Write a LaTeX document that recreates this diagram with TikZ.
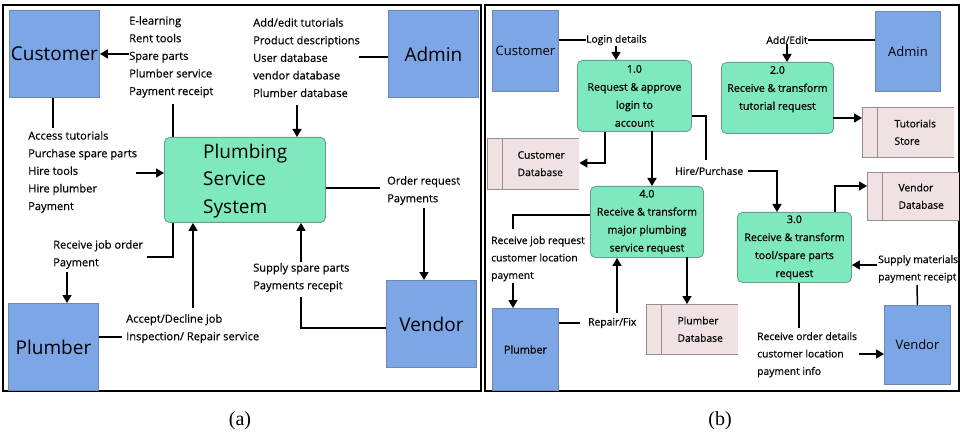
\documentclass[tikz,border=0pt]{standalone}
\usepackage{fontspec}
\setmainfont{Open Sans}
\newfontfamily\medfont{Open Sans}[FakeBold=0.5]
\newfontfamily\semifont{Open Sans}[FakeBold=0.8]
\newfontfamily\capfont{Liberation Serif}
\usetikzlibrary{arrows.meta}

\definecolor{extfill}{RGB}{124,166,230}
\definecolor{extline}{RGB}{110,135,175}
\definecolor{procfill}{RGB}{126,233,191}
\definecolor{procline}{RGB}{105,160,140}
\definecolor{storefill}{RGB}{240,226,226}
\definecolor{storeline}{RGB}{150,142,142}

\newcommand\bigtxt{\fontsize{19pt}{27.5pt}\selectfont}
\newcommand\midtxt{\fontsize{13pt}{16pt}\selectfont}
\newcommand\lblA{\medfont\fontsize{11.1pt}{17.6pt}\selectfont}
\newcommand\lblB{\medfont\fontsize{10.3pt}{17.4pt}\selectfont}
\newcommand\boxB{\semifont\fontsize{10.6pt}{18pt}\selectfont}

\tikzset{
  ext/.style={draw=extline, fill=extfill, line width=0.9pt, inner sep=0pt, anchor=north west},
  proc/.style={draw=procline, fill=procfill, line width=0.9pt, rounded corners=5pt,
    inner sep=0pt, anchor=north west, align=center, font=\boxB},
  storebox/.style={fill=storefill, inner sep=0pt, anchor=north west},
  storetxt/.style={inner sep=0pt, align=left, font=\lblB},
  lbla/.style={inner sep=0pt, anchor=north west, align=left, font=\lblA},
  lblb/.style={inner sep=0pt, align=left, font=\lblB},
  link/.style={line width=1.5pt},
  flow/.style={line width=1.5pt, -{Triangle[length=8pt,width=9pt]}},
  frame/.style={line width=2pt},
  captxt/.style={font=\capfont\fontsize{20pt}{22pt}\selectfont, inner sep=0pt},
}

\begin{document}
\begin{tikzpicture}[x=1pt, y=-1pt]
\useasboundingbox (0,0) rectangle (960,438);

% ---------- panel frames ----------
\draw[frame] (3,5) rectangle (480.5,391);
\draw[frame] (484.5,5) rectangle (958.5,391);

% ================= context diagram =================
\node[ext, minimum width=90pt, minimum height=87pt, font=\bigtxt] (custA) at (9,10) {Customer};
\node[ext, minimum width=90pt, minimum height=87pt, font=\bigtxt] (adminA) at (388,10) {Admin};
\node[ext, minimum width=90pt, minimum height=87pt, font=\bigtxt] (plumA) at (8,303) {Plumber};
\node[ext, minimum width=90pt, minimum height=87pt, font=\bigtxt] (vendA) at (386,280) {Vendor};
\node[ext, draw=procline, fill=procfill, rounded corners=5pt, minimum width=161pt, minimum height=85pt] (sysA) at (164,137) {};
\node[inner sep=0pt, anchor=west, align=left, font=\bigtxt] (sysT) at (203,181) {Plumbing\\Service\\System};

\node[lbla] (custOut) at (129,16) {E-learning\\Rent tools\\Spare parts\\Plumber service\\Payment receipt};
\node[lbla] (custIn) at (28,131) {Access tutorials\\Purchase spare parts\\Hire tools\\Hire plumber\\Payment};
\node[lbla] (admOut) at (253,18) {Add/edit tutorials\\Product descriptions\\User database\\vendor database\\Plumber database};
\node[lbla] (vendIn) at (387,176) {Order request\\Payments};
\node[lbla] (vendOut) at (253,263) {Supply spare parts\\Payments recepit};
\node[lbla] (plumIn) at (53,240) {Receive job order\\Payment};
\node[lbla] (plumOut) at (126,314) {Accept/Decline job\\Inspection/ Repair service};

\coordinate (a1) at (173,104);
\coordinate (a2) at (136,173);
\coordinate (a3) at (359,57);
\coordinate (a4) at (297,105);
\coordinate (a5) at (380,188);
\coordinate (a6) at (424,208);
\coordinate (a7) at (301,328);
\coordinate (a8) at (301,297);
\coordinate (a9) at (301,262);
\coordinate (a10) at (173,257);
\coordinate (a11) at (147,257);
\coordinate (a12) at (67,272);
\coordinate (a13) at (122,337);
\coordinate (a14) at (193,308);
\coordinate (a15) at (53,128);

\draw[flow] (custA.east -| custOut.west) -- (custA.east);
\draw[link] (a1) -- (a1 |- sysA.north);
\draw[link] (custA.south -| a15) -- (a15);
\draw[flow] (a2) -- (a2 -| sysA.west);
\draw[link] (a3 -| adminA.west) -- (a3);
\draw[flow] (a4) -- (a4 |- sysA.north);
\draw[link] (a5 -| sysA.east) -- (a5);
\draw[flow] (a6) -- (a6 |- vendA.north);
\draw[link] (a7 -| vendA.west) -- (a7) -- (a8);
\draw[flow] (a9) -- (a9 |- sysA.south);
\draw[link] (a10 |- sysA.south) -- (a10) -- (a11);
\draw[flow] (a12) -- (a12 |- plumA.north);
\draw[link] (a13 -| plumA.east) -- (a13);
\draw[flow] (a14) -- (a14 |- sysA.south);

% ================= level-1 diagram =================
\node[ext, minimum width=66pt, minimum height=81pt, font=\midtxt] (custB) at (492,10) {Customer};
\node[ext, minimum width=65pt, minimum height=80pt, font=\midtxt] (admB) at (875,11) {Admin};
\node[ext, minimum width=66pt, minimum height=82pt, font=\semifont\fontsize{10.8pt}{13pt}\selectfont] (plumB) at (492,308) {Plumber};
\node[ext, minimum width=66pt, minimum height=79pt, font=\midtxt] (vendB) at (884,305) {Vendor};

\node[proc, minimum width=114pt, minimum height=71pt] (p1) at (577,60) {1.0\\Request \& approve\\login to\\account};
\node[proc, minimum width=112pt, minimum height=71pt] (p2) at (721,62) {2.0\\Receive \& transform\\tutorial request\\[2pt]};
\node[proc, minimum width=114pt, minimum height=70pt] (p3) at (737,212) {3.0\\Receive \& transform\\tool/spare parts\\request};
\node[proc, minimum width=113pt, minimum height=71pt] (p4) at (590,186) {4.0\\Receive \& transform\\major plumbing\\service request};

% data stores: open on the right, with a narrow id strip on the left
\node[storebox, minimum width=92pt, minimum height=51pt] (cdb) at (487,138) {};
\node[storebox, minimum width=92pt, minimum height=50pt] (tdb) at (862,107) {};
\node[storebox, minimum width=92pt, minimum height=48pt] (vdb) at (867,172) {};
\node[storebox, minimum width=92pt, minimum height=50pt] (pdb) at (646,304) {};
\foreach \s in {cdb,tdb,vdb,pdb}{
  \draw[storeline, line width=0.9pt] (\s.north east) -- (\s.north west) -- (\s.south west) -- (\s.south east);
  \draw[storeline, line width=0.9pt] ([xshift=15pt]\s.north west) -- ([xshift=15pt]\s.south west);
}
\node[storetxt] at ([xshift=8pt]cdb.center) {Customer\\Database};
\node[storetxt] at ([xshift=7pt]tdb.center) {Tutorials\\Store};
\node[storetxt] at ([xshift=8pt]vdb.center) {Vendor\\Database};
\node[storetxt] at ([xshift=8pt]pdb.center) {Plumber\\Database};

\node[lblb, anchor=west] (loginL) at (586,40) {Login details};
\node[lblb, anchor=center] (addL) at (787,40) {Add/Edit};
\node[lblb, anchor=west] (hireL) at (675,171) {Hire/Purchase};
\node[lblb, anchor=north west] (jobL) at (491,236) {Receive job request\\customer location\\payment};
\node[lblb, anchor=west] (repL) at (588,323) {Repair/Fix};
\node[lblb, anchor=north west] (supL) at (878,255) {Supply materials\\payment receipt};
\node[lblb, anchor=north west] (ordL) at (757,332) {Receive order details\\customer location\\payment info};

\coordinate (b2) at (616,46);
\coordinate (b3) at (605,163);
\coordinate (b4) at (652,131);
\coordinate (b5) at (706,116);
\coordinate (b5a) at (706,160);
\coordinate (b6) at (777,172);
\coordinate (b9) at (833,118);
\coordinate (b10) at (835,186);
\coordinate (b11) at (877,265);
\coordinate (b12) at (917,285);
\coordinate (b13) at (799,328);
\coordinate (b14) at (859,354);
\coordinate (b15) at (513,215);
\coordinate (b15a) at (513,229);
\coordinate (b16) at (513,283);
\coordinate (b17) at (580,323);
\coordinate (b18) at (617,313);
\coordinate (b19) at (687,257);

\draw[link] (loginL.west -| custB.east) -- (loginL.west);
\draw[flow] (b2) -- (b2 |- p1.north);
\draw[flow] (b3 |- p1.south) -- (b3) -- (b3 -| cdb.east);
\draw[flow] (b4) -- (b4 |- p4.north);
\draw[link] (b5 -| p1.east) -- (b5) -- (b5a);
\draw[flow] ([xshift=5pt]hireL.east) -- (b6 |- hireL.east) -- (b6 |- p3.north);
\draw[link] (addL.east -| admB.west) -- (addL.east);
\draw[flow] (addL.south) -- (addL.south |- p2.north);
\draw[flow] (b9) -- (b9 -| tdb.west);
\draw[flow] (b10 |- p3.north) -- (b10) -- (b10 -| vdb.west);
\draw[flow] (b11) -- (b11 -| p3.east);
\draw[link] (vendB.north) -- (b12);
\draw[link] (b13 |- p3.south) -- (b13);
\draw[flow] (b14) -- (b14 -| vendB.west);
\draw[link] (b15 -| p4.west) -- (b15) -- (b15a);
\draw[flow] (b16) -- (b16 |- plumB.north);
\draw[link] (b17 -| plumB.east) -- (b17);
\draw[flow] (b18) -- (b18 |- p4.south);
\draw[flow] (b19) -- (b19 |- pdb.north);

% ---------- captions ----------
\node[captxt] (capA) at (240,421) {(a)};
\node[captxt] (capB) at (720,421) {(b)};
\end{tikzpicture}
\end{document}
